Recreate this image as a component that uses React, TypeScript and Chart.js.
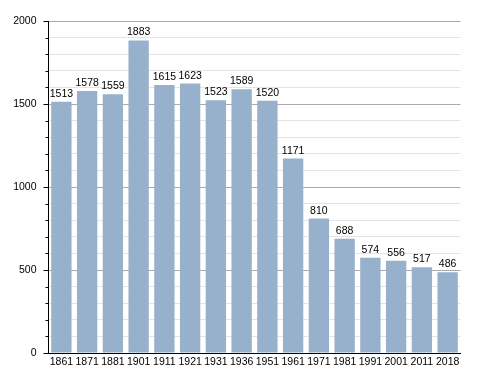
import React, { useEffect, useRef } from "react";
import { Chart, registerables } from "chart.js";

Chart.register(...registerables);

const years = ["1861", "1871", "1881", "1901", "1911", "1921", "1931", "1936", "1951", "1961", "1971", "1981", "1991", "2001", "2011", "2018"];
const population = [1513, 1578, 1559, 1883, 1615, 1623, 1523, 1589, 1520, 1171, 810, 688, 574, 556, 517, 486];
const yMax = 2000;
const yStep = 100;
const majorStep = 500;

const FONT = "'Liberation Sans', Arial, sans-serif";

const labelPlugin = {
  id: "valueLabels",
  afterDatasetsDraw(chart: any) {
    const ctx = chart.ctx;
    const meta = chart.getDatasetMeta(0);
    ctx.save();
    ctx.font = `10.5px ${FONT}`;
    ctx.fillStyle = "#000";
    ctx.textAlign = "center";
    ctx.textBaseline = "alphabetic";
    meta.data.forEach((bar: any, i: number) => {
      ctx.fillText(String(population[i]), bar.x, bar.y - 5);
    });
    ctx.restore();
  },
  afterDraw(chart: any) {
    const ctx = chart.ctx;
    const y = chart.scales.y;
    const left = chart.chartArea.left;
    ctx.save();
    ctx.strokeStyle = "#000";
    ctx.lineWidth = 1;
    for (let v = 0; v <= yMax; v += yStep) {
      const py = Math.round(y.getPixelForValue(v)) + 0.5;
      const len = v % majorStep === 0 ? 5 : 3;
      ctx.beginPath();
      ctx.moveTo(left - len, py);
      ctx.lineTo(left, py);
      ctx.stroke();
    }
    ctx.restore();
  },
};

export default function App() {
  const ref = useRef<HTMLCanvasElement>(null);
  useEffect(() => {
    const chart = new Chart(ref.current!, {
      type: "bar",
      data: {
        labels: years,
        datasets: [
          {
            data: population,
            backgroundColor: "#97b1cd",
            borderWidth: 0,
            barPercentage: 0.79,
            categoryPercentage: 1,
          },
        ],
      },
      options: {
        animation: false,
        responsive: false,
        devicePixelRatio: 1,
        layout: { padding: { top: 21, right: 27.5, left: 0, bottom: 0 } },
        plugins: { legend: { display: false }, tooltip: { enabled: false } },
        scales: {
          x: {
            grid: { display: false, drawTicks: false },
            border: { display: true, color: "#000", width: 1 },
            ticks: { color: "#000", font: { family: FONT, size: 10.5 }, padding: 3, maxRotation: 0, autoSkip: false },
            afterFit(scale: any) {
              scale.height = 20;
            },
          },
          y: {
            min: 0,
            max: yMax,
            grid: {
              drawTicks: false,
              color: (c: any) => (c.tick && c.tick.value % majorStep === 0 ? "#aaaaaa" : "#e4e4e4"),
            },
            border: { display: true, color: "#000", width: 1 },
            ticks: {
              stepSize: yStep,
              autoSkip: false,
              color: "#000",
              padding: 12,
              font: { family: FONT, size: 10.5 },
              callback: (v: any) => (Number(v) % majorStep === 0 ? String(v) : ""),
            },
            afterFit(scale: any) {
              scale.width = 48.5;
            },
          },
        },
      },
      plugins: [labelPlugin],
    });
    return () => chart.destroy();
  }, []);
  return (
    <div style={{ position: "fixed", left: 0, top: 0, width: 488, height: 373, background: "#fff" }}>
      <canvas ref={ref} width={488} height={373} style={{ width: 488, height: 373 }} />
    </div>
  );
}
